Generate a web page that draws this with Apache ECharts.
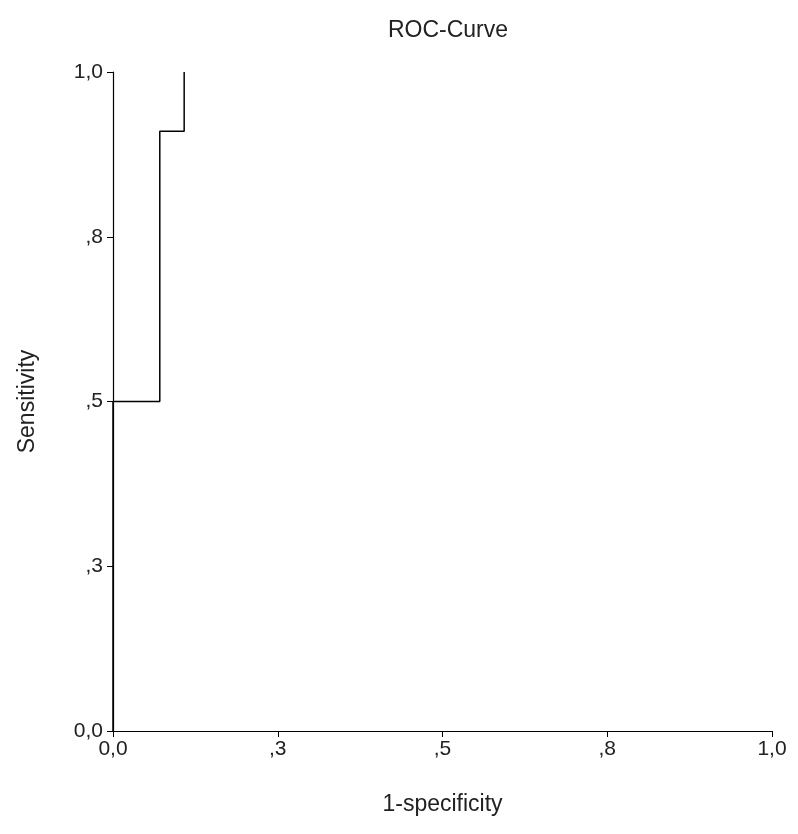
<!DOCTYPE html>
<html><head><meta charset="utf-8">
<script src="https://cdn.jsdelivr.net/npm/echarts@6/dist/echarts.min.js"></script>
<style>html,body{margin:0;padding:0;background:#fff}#c{width:798px;height:834px}</style>
</head><body><div id="c"></div>
<script>
const tickValues = [0, 0.25, 0.5, 0.75, 1];
const tickLabels = ['0,0', ',3', ',5', ',8', '1,0'];
const fpr = [0, 0, 0.071, 0.071, 0.108, 0.108];
const tpr = [0, 0.5, 0.5, 0.91, 0.91, 1];
function fmt(v){const i=tickValues.findIndex(t=>Math.abs(t-v)<1e-9);return i>=0?tickLabels[i]:'';}
const font = 'Liberation Sans, Arial, sans-serif';
const axisCommon = {
  type:'value', min:0, max:1, interval:0.25,
  axisLine:{show:true,lineStyle:{color:'#000',width:1.2}},
  axisTick:{show:true,length:6,lineStyle:{color:'#000'}},
  splitLine:{show:false},
  axisLabel:{formatter:fmt,color:'#222',fontSize:21,fontFamily:font},
  nameLocation:'middle',
  nameTextStyle:{color:'#222',fontSize:23,fontFamily:font}
};
const chart = echarts.init(document.getElementById('c'));
chart.setOption({
  backgroundColor:'#fff',
  title:{text:'ROC-Curve',left:443,top:14,textAlign:'center',textStyle:{color:'#222',fontSize:23,fontWeight:'normal',fontFamily:font}},
  grid:{left:113,right:26,top:72,bottom:103},
  xAxis:Object.assign({},axisCommon,{name:'1-specificity',nameGap:62,axisLabel:Object.assign({},axisCommon.axisLabel,{margin:8})}),
  yAxis:Object.assign({},axisCommon,{name:'Sensitivity',nameGap:74,axisLabel:Object.assign({},axisCommon.axisLabel,{margin:10})}),
  series:[{type:'line',data:fpr.map((x,i)=>[x,tpr[i]]),showSymbol:false,lineStyle:{color:'#000',width:1.5},animation:false}]
});
</script></body></html>
